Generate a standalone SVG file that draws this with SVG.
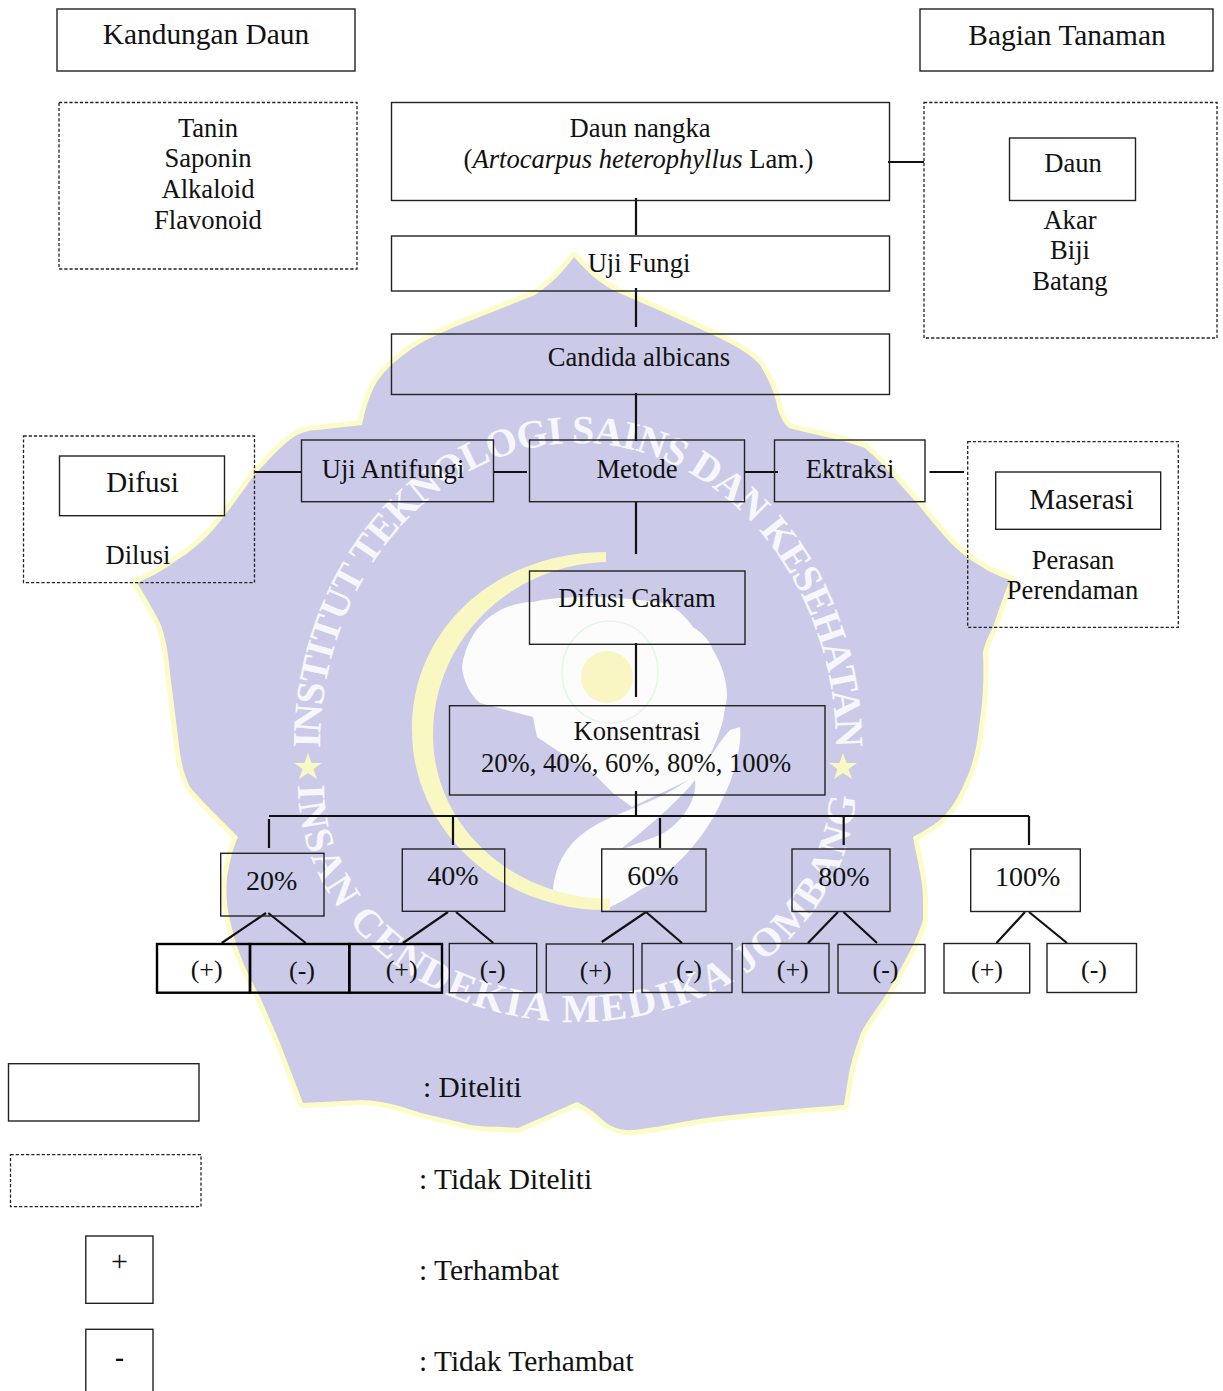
<svg xmlns="http://www.w3.org/2000/svg" width="1223" height="1391" viewBox="0 0 1223 1391">
<style>
text{font-family:"Liberation Serif","Times New Roman",serif;fill:#111;font-size:26.6px;text-anchor:middle}
.l{text-anchor:start;font-size:29.4px}
.b{font-size:29px}
.p{font-size:28px}
.s{font-size:26px}
.k{font-size:29.4px}
rect{fill:none;stroke:#222;stroke-width:1.4}
.d{stroke-dasharray:3.2 2;stroke-width:1.3}
.t{stroke-width:2.4;stroke:#000}
#connectors path{fill:none;stroke:#111;stroke-width:2.2}
.w{fill:#fff;font-weight:bold;font-size:40px;opacity:.85;text-anchor:start}
</style>
<defs>
<path id="arcTop" d="M320,748 A258 305 0 0 1 836,748"/>
<path id="arcBot" d="M298,785 A279 237 0 0 0 856,785"/>
</defs>
<g id="watermark">
<path fill="#cbcbe9" stroke="#fdfbc6" stroke-width="10" stroke-linejoin="round" paint-order="stroke" d="M574,257 C590,275 602,285 617,292 L663,312 L709,333 C735,345 752,355 760,365 C772,385 775,395 778,410 C782,420 785,425 789,428 C815,435 845,440 865,448 C885,465 900,485 917,503 C935,525 950,545 967,557 C980,567 995,575 1010,580 C1003,597 998,612 993,627 C988,637 984,645 983,653 C984,680 983,700 980,720 C977,745 975,755 970,770 C962,790 955,805 943,817 C935,825 922,832 913,837 C917,860 923,880 923,900 L923,920 C915,945 905,960 896,977 C885,1000 870,1015 861,1033 C855,1050 852,1060 849,1073 L844,1105 C800,1108 750,1113 706,1118 C680,1122 655,1128 634,1130 C620,1131 612,1127 605,1122 C595,1113 588,1107 577,1102 L518,1128 C495,1126 480,1128 463,1123 L421,1113 C400,1106 385,1101 362,1100 L303,1103 L280,1043 L260,997 C245,970 235,945 230,920 C226,905 226,890 227,877 C230,860 233,848 238,837 C222,820 205,805 190,787 C184,775 182,765 180,753 L170,673 C168,650 165,635 160,623 C152,608 145,595 137,583 C150,577 165,570 177,560 C190,552 202,542 213,530 C228,512 240,495 253,477 C268,460 282,445 295,436 C305,431 312,430 317,430 L362,425 C365,410 368,400 374,387 C382,372 394,362 406,353 C420,342 437,335 452,328 L535,295 C550,285 563,272 574,257 Z"/>
<path fill="#fcfcfc" d="M462,667 C465,645 475,630 483,623 C495,610 515,602 533,602 C560,595 620,595 667,604 C680,610 688,620 693,627 C705,635 710,642 713,650 C722,665 727,680 727,697 L723,720 C715,750 705,765 695,777 L632,807 L613,793 L593,773 L567,757 L537,737 L533,717 L480,703 C470,695 463,680 462,667 Z"/>
<path fill="#fcfcfc" d="M553,890 C556,860 570,835 610,818 C640,805 670,795 695,775 C710,760 720,740 730,730 L740,727 C742,745 735,775 722,800 C705,840 670,875 640,890 C625,900 615,905 608,908 L580,903 Z"/>
<path fill="#cbcbe9" d="M620,850 C650,825 680,800 695,780 C698,800 680,825 660,835 Z"/>
<path fill="#faf8c2" d="M606,552 C500,552 412,625 412,730 C412,830 500,912 610,910 L610,899 C510,897 433,825 433,735 C433,640 510,565 606,562 Z"/>
<ellipse cx="610" cy="672" rx="48" ry="51" fill="none" stroke="#e6f6e6" stroke-width="1.5"/>
<circle cx="607" cy="677" r="26" fill="#faf6c4"/>
<polygon fill="#faf8c2" points="308,753 311.5,763 322,763 313.5,769 317,779 308,773 299,779 302.5,769 294,763 304.5,763"/>
<polygon fill="#faf8c2" points="843,753 846.5,763 857,763 848.5,769 852,779 843,773 834,779 837.5,769 829,763 839.5,763"/>
<text class="w"><textPath href="#arcTop" textLength="885" lengthAdjust="spacing">INSTITUT TEKNOLOGI SAINS DAN KESEHATAN</textPath></text>
<text class="w"><textPath href="#arcBot" textLength="800" lengthAdjust="spacing">INSAN CENDEKIA MEDIKA JOMBANG</textPath></text>
</g>
<g id="connectors">
<path d="M636,198V235M636,288V327M636,393V441M636,502V554M636,643V697M636,791V816"/>
<path d="M269,816H1029M269,819V848M453,816V845M660,818V848M843.7,816V845M1029,816V845"/>
<path d="M888,162H924M254,472H301M493,472H527M745,472H778M929.5,472H964"/>
<path d="M266,913L221.7,943M268.3,913L305.7,943M448,912L403,943M456,912L493.3,943M646,912L601.7,942M646,912L682,943M838,912L808,943M843.5,912L877,943M1025,912L996.5,943M1029,912L1067,943"/>
</g>
<g id="kandungan-daun"><rect x="57" y="9" width="298" height="62"/><text x="206" y="44" class="k">Kandungan Daun</text></g>
<g id="bagian-tanaman"><rect x="920" y="9" width="293" height="62"/><text x="1067" y="45" class="k">Bagian Tanaman</text></g>
<g id="kandungan-list"><rect class="d" x="59" y="102.5" width="298" height="166.5"/><text x="208" y="137">Tanin</text><text x="208" y="167">Saponin</text><text x="208" y="198">Alkaloid</text><text x="208" y="229">Flavonoid</text></g>
<g id="daun-nangka"><rect x="391.5" y="102.5" width="498" height="98"/><text x="640" y="137">Daun nangka</text><text x="638.5" y="168">(<tspan font-style="italic">Artocarpus heterophyllus</tspan> Lam.)</text></g>
<g id="bagian-list"><rect class="d" x="924" y="102.5" width="293" height="235.5"/><text x="1070" y="229">Akar</text><text x="1070" y="259">Biji</text><text x="1070" y="290">Batang</text></g>
<g id="daun"><rect x="1009.5" y="138" width="126" height="62.5"/><text x="1073" y="172">Daun</text></g>
<g id="uji-fungi"><rect x="391.5" y="236" width="498" height="55"/><text x="639" y="272">Uji Fungi</text></g>
<g id="candida"><rect x="391.5" y="334" width="498" height="60.5"/><text x="639" y="366">Candida albicans</text></g>
<g id="difusi-group"><rect class="d" x="23.5" y="436" width="231" height="146.7"/><text x="138" y="563.5">Dilusi</text></g>
<g id="difusi"><rect x="59.5" y="456" width="165" height="59.7"/><text x="142.5" y="492" class="b">Difusi</text></g>
<g id="uji-antifungi"><rect x="301.5" y="440" width="192" height="61.7"/><text x="393" y="478">Uji Antifungi</text></g>
<g id="metode"><rect x="529.5" y="440" width="215" height="61.7"/><text x="637" y="478">Metode</text></g>
<g id="ektraksi"><rect x="774.5" y="440" width="150.5" height="61.7"/><text x="850" y="478">Ektraksi</text></g>
<g id="maserasi-group"><rect class="d" x="967.7" y="441.7" width="210.6" height="185.6"/><text x="1073" y="569">Perasan</text><text x="1072.5" y="599">Perendaman</text></g>
<g id="maserasi"><rect x="995.7" y="472" width="165" height="57.3"/><text x="1081.5" y="508.5" class="b">Maserasi</text></g>
<g id="difusi-cakram"><rect x="529.5" y="571" width="215.5" height="73.3"/><text x="637" y="607">Difusi Cakram</text></g>
<g id="konsentrasi"><rect x="449.5" y="705.7" width="375.5" height="89.3"/><text x="637" y="740">Konsentrasi</text><text x="636" y="772">20%, 40%, 60%, 80%, 100%</text></g>
<g id="p20"><rect x="220.7" y="853.3" width="103.3" height="62.7"/><text x="271.7" y="890" class="p">20%</text></g>
<g id="p40"><rect x="402.3" y="849" width="102.4" height="62.3"/><text x="453" y="885" class="p">40%</text></g>
<g id="p60"><rect x="601.7" y="849" width="104.3" height="62.5"/><text x="653" y="885" class="p">60%</text></g>
<g id="p80"><rect x="792" y="849" width="98" height="62.5"/><text x="843.8" y="886" class="p">80%</text></g>
<g id="p100"><rect x="970.7" y="849" width="109.6" height="62.5"/><text x="1027.6" y="886" class="p">100%</text></g>
<g id="r20-plus"><rect class="t" x="157" y="944" width="93" height="48.7"/><text x="206.7" y="978" class="s">(+)</text></g>
<g id="r20-minus"><rect class="t" x="250" y="944" width="99.3" height="48.7"/><text x="302" y="979" class="s">(-)</text></g>
<g id="r40-plus"><rect class="t" x="349.3" y="944" width="92.7" height="48.7"/><text x="401.7" y="978" class="s">(+)</text></g>
<g id="r40-minus"><rect x="449.3" y="943.5" width="87.4" height="49.2"/><text x="492.7" y="978" class="s">(-)</text></g>
<g id="r60-plus"><rect x="546.3" y="944" width="87" height="48.7"/><text x="595.7" y="979" class="s">(+)</text></g>
<g id="r60-minus"><rect x="642" y="943.5" width="90" height="49"/><text x="689" y="978" class="s">(-)</text></g>
<g id="r80-plus"><rect x="742.4" y="943.5" width="86.6" height="49"/><text x="792.8" y="978" class="s">(+)</text></g>
<g id="r80-minus"><rect x="838" y="944.5" width="87" height="48.5"/><text x="885.5" y="978" class="s">(-)</text></g>
<g id="r100-plus"><rect x="944" y="943.5" width="85.7" height="49.5"/><text x="987" y="978" class="s">(+)</text></g>
<g id="r100-minus"><rect x="1047" y="943.5" width="89.5" height="49"/><text x="1094" y="978" class="s">(-)</text></g>
<g id="legend-diteliti"><rect x="8.5" y="1063.7" width="190.5" height="57.3"/><text x="423" y="1097" class="l">: Diteliti</text></g>
<g id="legend-tidak-diteliti"><rect class="d" x="10.5" y="1154.7" width="190.5" height="52"/><text x="419" y="1188.5" class="l">: Tidak Diteliti</text></g>
<g id="legend-terhambat"><rect x="85.8" y="1236" width="67.2" height="67.3"/><text x="119.5" y="1271" style="font-size:30px">+</text><text x="419" y="1279.5" class="l">: Terhambat</text></g>
<g id="legend-tidak-terhambat"><rect x="85.8" y="1329.3" width="67.2" height="80"/><text x="119.5" y="1366" style="font-size:27px;font-weight:bold">-</text><text x="419" y="1371" class="l">: Tidak Terhambat</text></g>
</svg>
